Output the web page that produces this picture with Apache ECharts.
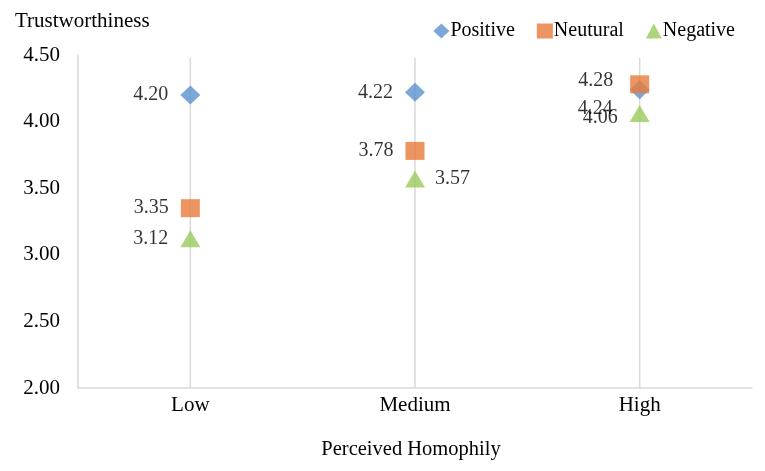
<!DOCTYPE html>
<html>
<head>
<meta charset="utf-8">
<script src="https://cdn.jsdelivr.net/npm/echarts@6/dist/echarts.min.js"></script>
<style>
    html, body {margin: 0; padding: 0; background: #fff;}
    #chart {width: 765px; height: 471px;}
</style>
</head>
<body>
<div id="chart"></div>
<script>
    const categories = ['Low', 'Medium', 'High'];
    const positive = [4.20, 4.22, 4.24];
    const neutural = [3.35, 3.78, 4.28];
    const negative = [3.12, 3.57, 4.06];
    const yTicks = [2.0, 2.5, 3.0, 3.5, 4.0, 4.5];

    const font = 'Liberation Serif, Times New Roman, serif';

    // label placement per point, same order as categories
    const posLabel = [
        {position: 'left', offset: [0, 0]}
        , {position: 'left', offset: [0, 0]}
        , {position: 'left', offset: [-5, 19]}
    ];
    const neuLabel = [
        {position: 'left', offset: [0, 0]}
        , {position: 'left', offset: [0, 0]}
        , {position: 'left', offset: [-5, -4]}
    ];
    const negLabel = [
        {position: 'left', offset: [0, 0]}
        , {position: 'right', offset: [-2, 0]}
        , {position: 'left', offset: [0, 4]}
    ];

    function points(values, labels) {
        return values.map(function (v, i) {
            return {
                value: v
                , label: {position: labels[i].position, offset: labels[i].offset}
            };
        });
    }

    function series(name, symbol, size, color, values, labels) {
        return {
            name: name
            , type: 'scatter'
            , symbol: symbol
            , symbolSize: size
            , itemStyle: {color: color}
            , label: {
                show: true
                , distance: 12
                , color: '#000'
                , fontFamily: font
                , fontSize: 20
                , formatter: function (p) {
                    return p.value.toFixed(2);
                }
            }
            , data: points(values, labels)
        };
    }

    const chart = echarts.init(document.getElementById('chart'));
    chart.setOption({
        animation: false
        , backgroundColor: '#fff'
        , title: {
            text: 'Trustworthiness'
            , left: 10
            , top: 6
            , textStyle: {fontFamily: font, fontSize: 21, fontWeight: 'normal', color: '#000'}
        }
        , legend: {
            right: 25
            , top: 16
            , itemGap: 22
            , itemWidth: 16
            , itemHeight: 15
            , textStyle: {fontFamily: font, fontSize: 20, color: '#000', padding: [0, 0, 0, -4]}
            , data: ['Positive', 'Neutural', 'Negative']
        }
        , grid: {left: 78, right: 13, top: 55, bottom: 83, containLabel: false}
        , xAxis: {
            type: 'category'
            , data: categories
            , name: 'Perceived Homophily'
            , nameLocation: 'middle'
            , nameGap: 51
            , nameTextStyle: {fontFamily: font, fontSize: 20.5, color: '#000', padding: [0, 8, 0, 0]}
            , axisLine: {lineStyle: {color: '#d9d9d9', width: 1.5}}
            , axisTick: {show: false}
            , axisLabel: {fontFamily: font, fontSize: 21, color: '#000', margin: 7}
            , splitLine: {show: false}
        }
        , yAxis: {
            type: 'value'
            , min: yTicks[0]
            , max: yTicks[yTicks.length - 1]
            , interval: 0.5
            , axisLine: {show: true, lineStyle: {color: '#d9d9d9', width: 1.5}}
            , axisTick: {show: false}
            , splitLine: {show: false}
            , axisLabel: {
                fontFamily: font
                , fontSize: 21
                , color: '#000'
                , margin: 18
                , formatter: function (v) {
                    return v.toFixed(2);
                }
            }
        }
        , series: [
            series('Positive', 'diamond', [20, 19], '#5b92d0', positive, posLabel)
            , series('Neutural', 'rect', [19, 18], '#e87a3a', neutural, neuLabel)
            , series('Negative', 'triangle', [20, 17], '#9acb5b', negative, negLabel)
            , {
                // vertical drop lines at each category
                type: 'bar'
                , data: categories.map(function () {
                    return yTicks[yTicks.length - 1] - 0.02;
                })
                , barWidth: 1.5
                , itemStyle: {color: '#d9d9d9'}
                , silent: true
                , z: 1
                , legendHoverLink: false
            }
        ]
    });
</script>
</body>
</html>
